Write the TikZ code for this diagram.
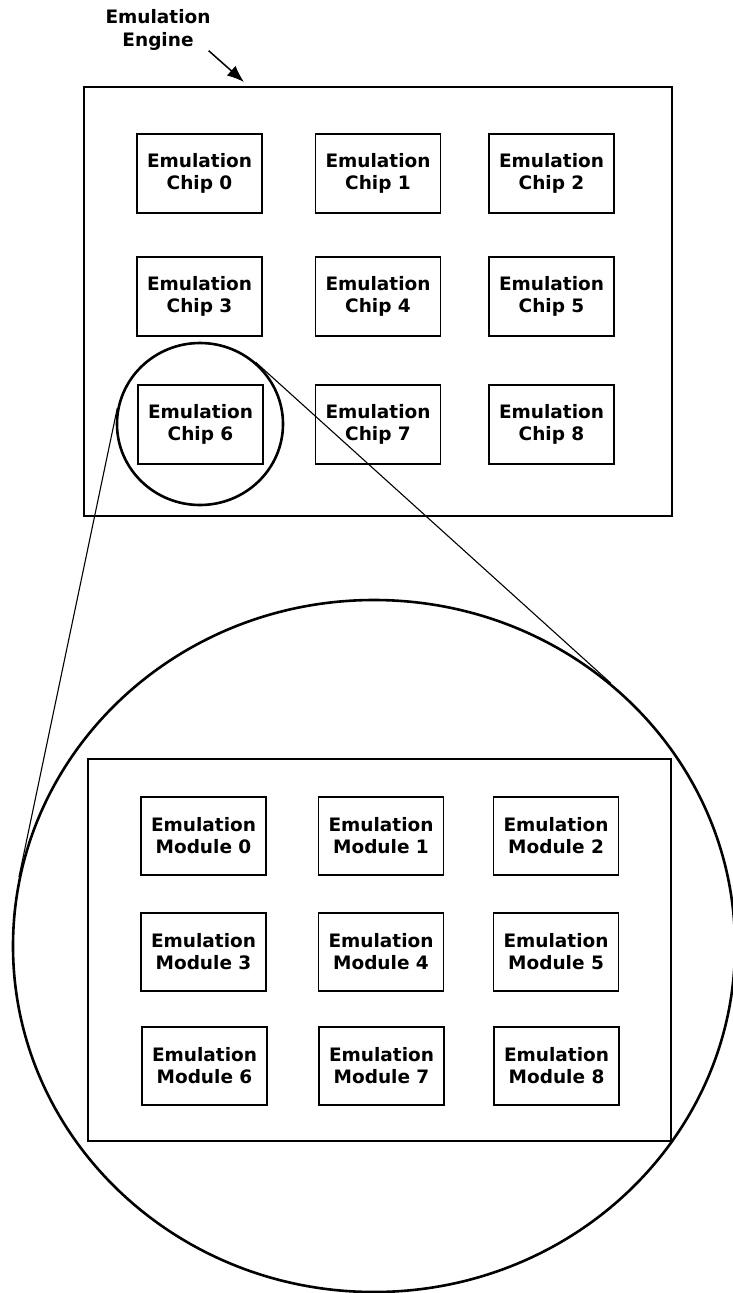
\documentclass[tikz,border=0pt]{standalone}
\usepackage{fontspec}
\setmainfont{DejaVu Sans}
\usetikzlibrary{shapes.geometric, arrows.meta}

\begin{document}
\begin{tikzpicture}[x=1pt, y=-1pt, >={Latex[length=17pt, width=13pt]},
  unitbox/.style={draw, line width=1.6pt, inner sep=0pt, align=center,
    minimum width=125pt, minimum height=79pt,
    font=\bfseries\fontsize{18.5}{22}\selectfont},
  lensring/.style={draw, ellipse, inner sep=0pt, line width=2.6pt}]

  \useasboundingbox (0,0) rectangle (733,1293);

  % --- 1. ラベルと矢印 ---
  \node[align=center, inner sep=0pt, font=\bfseries\fontsize{18.5}{23}\selectfont]
    (enginelabel) at (158,30) {Emulation\\Engine};
  \coordinate (enginetip) at (244,82);
  \draw[->, line width=1.5pt] ([xshift=-2pt]enginelabel.south east) -- (enginetip);

  % --- 2. Emulation Engine の枠 ---
  \node[draw, line width=1.6pt, minimum width=588pt, minimum height=429pt]
    (engine) at (378,301.5) {};

  % --- 3. チップ (3 x 3) ---
  \foreach \n/\cx/\cy in {0/199.5/173.5, 1/378/173.5, 2/551.5/173.5,
                          3/199.5/296.5, 4/378/296.5, 5/551.5/296.5,
                          6/200.5/424.5, 7/378/424.5, 8/551.5/424.5}
    \node[unitbox] (chip\n) at (\cx,\cy) {Emulation\\Chip \n};

  % --- 4. 拡大の円 ---
  \node[lensring, minimum width=166pt, minimum height=162pt] (lens) at (200,424) {};
  \node[lensring, minimum width=722pt, minimum height=692pt] (bigzoom) at (374,946) {};

  % 接線
  \draw[line width=1.1pt] (lens.169) -- (bigzoom.169);
  \draw[line width=1.1pt] (lens.48) -- (bigzoom.48);

  % --- 5. チップ内部の枠 ---
  \node[draw, line width=1.6pt, minimum width=583pt, minimum height=382pt]
    (chipinside) at (379.5,950) {};

  % --- 6. モジュール (3 x 3) ---
  \foreach \n/\cx/\cy in {0/203.5/836, 1/381/836, 2/556/836,
                          3/203.5/952, 4/381/952, 5/556/952,
                          6/204.5/1066, 7/381.5/1066, 8/556.5/1066}
    \node[unitbox, minimum height=78pt] (module\n) at (\cx,\cy) {Emulation\\Module \n};

\end{tikzpicture}
\end{document}
